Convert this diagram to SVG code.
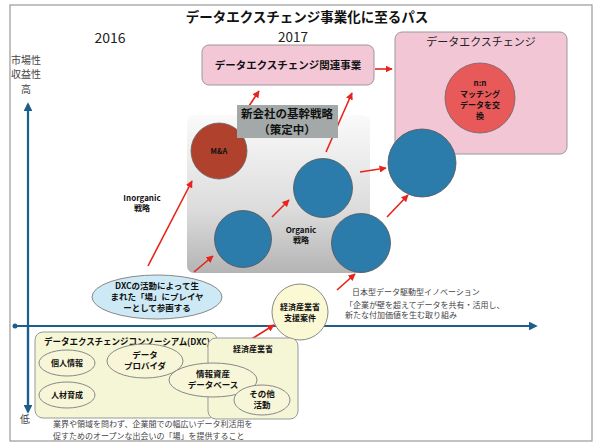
<svg xmlns="http://www.w3.org/2000/svg" width="600" height="448" viewBox="0 0 600 448">
<style>
text{font-family:"Noto Sans CJK JP","Liberation Sans",sans-serif;}
.b{font-weight:bold;fill:#111;}
.g{fill:#444;}
.blue{fill:#2b7bab;stroke:#555;stroke-width:0.8;}
.red{stroke:#e8231c;stroke-width:1.6;fill:none;marker-end:url(#ar);}
.ax{stroke:#1d5f8a;stroke-width:2.2;fill:none;}
.yel{fill:#f5f6d6;stroke:#999;stroke-width:1;}
.ell{fill:#f8f6d8;stroke:#888;stroke-width:1;}
</style>
<defs>
<marker id="ar" viewBox="0 0 10 10" refX="9" refY="5" markerWidth="4.5" markerHeight="4.5" orient="auto"><path d="M0,0 L10,5 L0,10 z" fill="#e8231c"/></marker>
<marker id="aa" viewBox="0 0 10 10" refX="8" refY="5" markerWidth="4" markerHeight="4" orient="auto"><path d="M0,0 L10,5 L0,10 z" fill="#1d5f8a"/></marker>
<linearGradient id="gg" x1="0" y1="0" x2="0" y2="1"><stop offset="0" stop-color="#fafafa"/><stop offset="0.6" stop-color="#dcdcdc"/><stop offset="1" stop-color="#b4b4b4"/></linearGradient>
</defs>
<rect x="0" y="0" width="600" height="448" fill="#fff"/>
<rect x="10" y="5" width="582" height="436" fill="#fff" stroke="#999" stroke-width="1.2"/>
<text x="307" y="22" text-anchor="middle" class="b" font-size="13.5">データエクスチェンジ事業化に至るパス</text>
<text x="110" y="43" text-anchor="middle" font-size="14" fill="#222">2016</text>
<text x="293" y="42" text-anchor="middle" font-size="13.5" fill="#222">2017</text>
<g id="yaxis-labels" font-size="10">
<text x="26" y="64" text-anchor="middle" class="g">市場性</text>
<text x="26" y="78" text-anchor="middle" class="g">収益性</text>
<text x="26" y="93" text-anchor="middle" class="g">高</text>
<text x="25" y="423" text-anchor="middle" class="g">低</text>
</g>
<g id="axes">
<line x1="28" y1="410" x2="28" y2="104" class="ax" marker-end="url(#aa)"/>
<line x1="28" y1="326" x2="28" y2="412" class="ax" marker-end="url(#aa)"/>
<line x1="15" y1="326" x2="536" y2="326" class="ax" marker-end="url(#aa)"/>
<circle cx="15" cy="326" r="2.5" fill="#1d5f8a"/>
</g>
<g id="dx-exchange">
<rect x="395" y="32" width="172" height="122" rx="7" fill="#f3c6d6" stroke="#999"/>
<text x="481" y="46" text-anchor="middle" font-size="11" fill="#222">データエクスチェンジ</text>
</g>
<g id="nn-matching">
<circle cx="480" cy="98" r="35" fill="#e8595a" stroke="#666" stroke-width="0.8"/>
<text x="480" y="86" text-anchor="middle" class="b" font-size="8">n:n</text>
<text x="480" y="97" text-anchor="middle" class="b" font-size="8">マッチング</text>
<text x="480" y="108" text-anchor="middle" class="b" font-size="8">データを交</text>
<text x="480" y="119" text-anchor="middle" class="b" font-size="8">換</text>
</g>
<g id="related-business">
<rect x="202" y="45" width="172" height="40" rx="7" fill="#f4c7d7" stroke="#999"/>
<text x="288" y="69" text-anchor="middle" class="b" font-size="10.5">データエクスチェンジ関連事業</text>
</g>
<g id="strategy-area">
<rect x="187" y="115" width="183" height="158" rx="7" fill="url(#gg)"/>
</g>
<g id="ma">
<circle cx="219" cy="151" r="28" fill="#b0422d" stroke="#666" stroke-width="0.8"/>
<text x="219" y="154" text-anchor="middle" class="b" font-size="7.5">M&amp;A</text>
</g>
<g id="c1"><circle cx="243" cy="239" r="28.5" class="blue"/></g>
<g id="c2"><circle cx="323" cy="188" r="29.5" class="blue"/></g>
<g id="c3"><circle cx="361" cy="243" r="29.5" class="blue"/></g>
<g id="c4"><circle cx="422" cy="163" r="34" class="blue"/></g>
<g id="labels-strategy">
<text x="142" y="201" text-anchor="middle" class="b" font-size="8">Inorganic</text>
<text x="142" y="211" text-anchor="middle" class="b" font-size="8">戦略</text>
<text x="301" y="233" text-anchor="middle" class="b" font-size="8">Organic</text>
<text x="301" y="243" text-anchor="middle" class="b" font-size="8">戦略</text>
</g>
<g id="connectors">
<line x1="148" y1="266" x2="192" y2="181" class="red"/>
<line x1="194" y1="272" x2="213" y2="256" class="red"/>
<line x1="272" y1="217" x2="289" y2="200" class="red"/>
<line x1="326" y1="152" x2="352" y2="93" class="red"/>
<line x1="249" y1="106" x2="259" y2="91" class="red"/>
<line x1="360" y1="172" x2="386" y2="168" class="red"/>
<line x1="387" y1="217" x2="408" y2="195" class="red"/>
<line x1="375" y1="69" x2="392" y2="69" class="red"/>
<line x1="337" y1="290" x2="355" y2="274" class="red"/>
<line x1="250" y1="340" x2="274" y2="325" class="red"/>
</g>
<g id="strategy-label">
<rect x="237" y="105" width="101" height="33" fill="#a3a9a8"/>
<text x="287" y="118" text-anchor="middle" class="b" font-size="11.5">新会社の基幹戦略</text>
<text x="287" y="133.5" text-anchor="middle" class="b" font-size="11.5">（策定中）</text>
</g>
<g id="dxc-participate">
<ellipse cx="157" cy="297" rx="65" ry="22" fill="#cde9f5" stroke="#888"/>
<text x="157" y="289" text-anchor="middle" class="b" font-size="8.5">DXCの活動によって生</text>
<text x="157" y="300" text-anchor="middle" class="b" font-size="8.5">まれた「場」にプレイヤ</text>
<text x="157" y="311" text-anchor="middle" class="b" font-size="8.5">ーとして参画する</text>
</g>
<g id="meti-project">
<circle cx="300" cy="312" r="28" fill="#fbf8d4" stroke="#888"/>
<text x="300" y="310" text-anchor="middle" class="b" font-size="8">経済産業省</text>
<text x="300" y="321" text-anchor="middle" class="b" font-size="8">支援案件</text>
</g>
<g id="innovation-text" font-size="8">
<text x="352" y="295" class="g">日本型データ駆動型イノベーション</text>
<text x="345" y="308" class="g">「企業が壁を超えてデータを共有・活用し、</text>
<text x="345" y="318" class="g">新たな付加価値を生む取り組み</text>
</g>
<g id="dxc">
<rect x="35" y="332" width="182" height="86" rx="8" class="yel"/>
<text x="44" y="345" class="b" font-size="9" textLength="166" lengthAdjust="spacingAndGlyphs">データエクスチェンジコンソーシアム(DXC)</text>
</g>
<g id="meti">
<rect x="208" y="338" width="90" height="81" rx="8" class="yel"/>
<text x="253" y="352" text-anchor="middle" class="b" font-size="8">経済産業省</text>
</g>
<g id="personal-info">
<ellipse cx="67" cy="363" rx="28" ry="13" class="ell"/>
<text x="67" y="366" text-anchor="middle" class="b" font-size="8">個人情報</text>
</g>
<g id="data-provider">
<ellipse cx="145" cy="361" rx="38" ry="17" class="ell"/>
<text x="145" y="358" text-anchor="middle" class="b" font-size="8.5">データ</text>
<text x="145" y="369" text-anchor="middle" class="b" font-size="8.5">プロバイダ</text>
</g>
<g id="hr">
<ellipse cx="67" cy="395" rx="28" ry="13" class="ell"/>
<text x="67" y="398" text-anchor="middle" class="b" font-size="8">人材育成</text>
</g>
<g id="info-db">
<ellipse cx="213" cy="380" rx="44" ry="17" class="ell"/>
<text x="213" y="377" text-anchor="middle" class="b" font-size="8.5">情報資産</text>
<text x="213" y="388" text-anchor="middle" class="b" font-size="8.5">データベース</text>
</g>
<g id="other">
<ellipse cx="262" cy="400" rx="28" ry="15" class="ell"/>
<text x="262" y="397" text-anchor="middle" class="b" font-size="8.5">その他</text>
<text x="262" y="408" text-anchor="middle" class="b" font-size="8.5">活動</text>
</g>
<g id="bottom-text" font-size="8">
<text x="53" y="427" class="g">業界や領域を問わず、企業間での幅広いデータ利活用を</text>
<text x="53" y="439" class="g">促すためのオープンな出会いの「場」を提供すること</text>
</g>
</svg>
